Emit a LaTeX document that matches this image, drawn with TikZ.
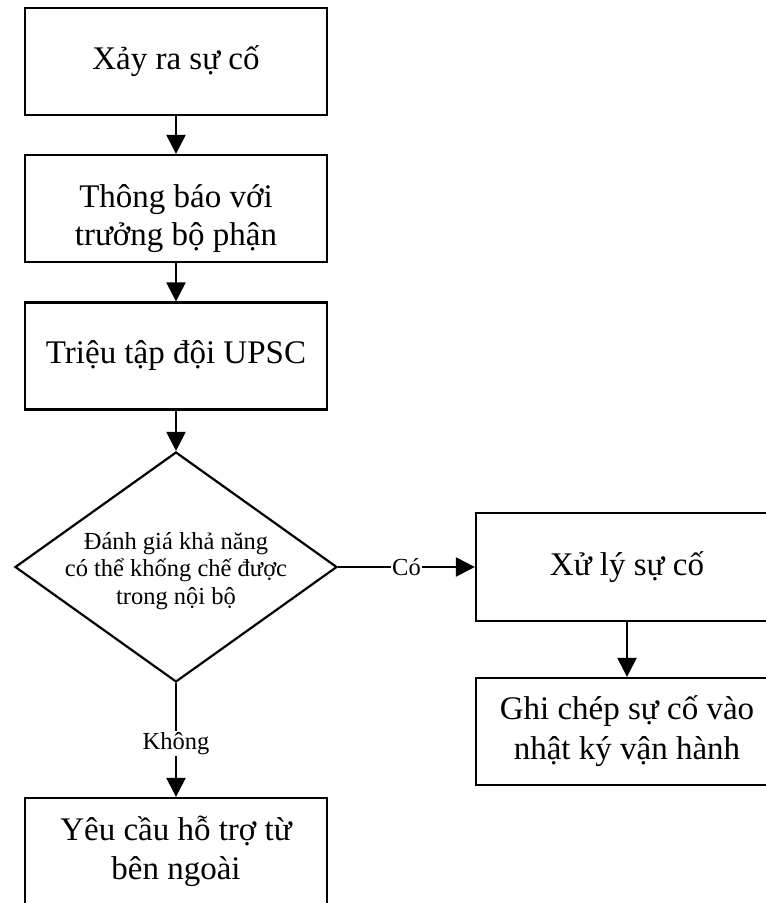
\documentclass[tikz,border=0pt]{standalone}
\usepackage{fontspec}
\setmainfont{Liberation Serif}
\usetikzlibrary{shapes.geometric,arrows.meta}

\begin{document}
\begin{tikzpicture}[x=1pt,y=-1pt,
  box/.style={draw=black, line width=2.2pt, minimum width=302pt, minimum height=107pt,
    inner sep=0pt, align=center, font=\fontsize{33}{38}\selectfont},
  decision/.style={diamond, draw=black, line width=2.2pt, minimum width=322pt,
    minimum height=230pt, inner sep=0pt},
  smalltext/.style={align=center, font=\fontsize{24.5}{27.5}\selectfont},
  lbl/.style={fill=white, inner sep=1.5pt, font=\fontsize{24.5}{26}\selectfont},
  arr/.style={line width=2.2pt, -{Triangle[width=19pt,length=19pt]}}]
 \useasboundingbox (0,0) rectangle (766,903);
 \clip (0,0) rectangle (766,903);
 % main column
 \node[box] (incident) at (176,61.5) {Xảy ra sự cố};
 \node[box] (notify) at (176,208.5) {\rule{0pt}{43pt}Thông báo với\\trưởng bộ phận};
 \node[box] (summon) at (176,356) {Triệu tập đội UPSC};
 \node[decision] (assess) at (176,567) {};
 \node[smalltext] (assesstxt) at (176,571) {Đánh giá khả năng\\có thể khống chế được\\trong nội bộ};
 \node[box, font=\fontsize{33}{39}\selectfont] (outside) at (176,851.5) {Yêu cầu hỗ trợ từ\\bên ngoài};
 % right branch
 \node[box, minimum height=108pt] (handle) at (627,567) {Xử lý sự cố};
 \node[box, font=\fontsize{33}{40}\selectfont] (logbook) at (627,731.5) {Ghi chép sự cố vào\\nhật ký vận hành};
 % connectors
 \draw[arr] (incident) -- (notify);
 \draw[arr] (notify) -- (summon);
 \draw[arr] (summon) -- (assess.north);
 \draw[arr] (assess.east) -- node[lbl] (yeslbl) {Có} (handle.west);
 \draw[arr] (assess.south) -- node[lbl, pos=0.53] (nolbl) {Không} (outside.north);
 \draw[arr] (handle) -- (logbook);
\end{tikzpicture}
\end{document}
